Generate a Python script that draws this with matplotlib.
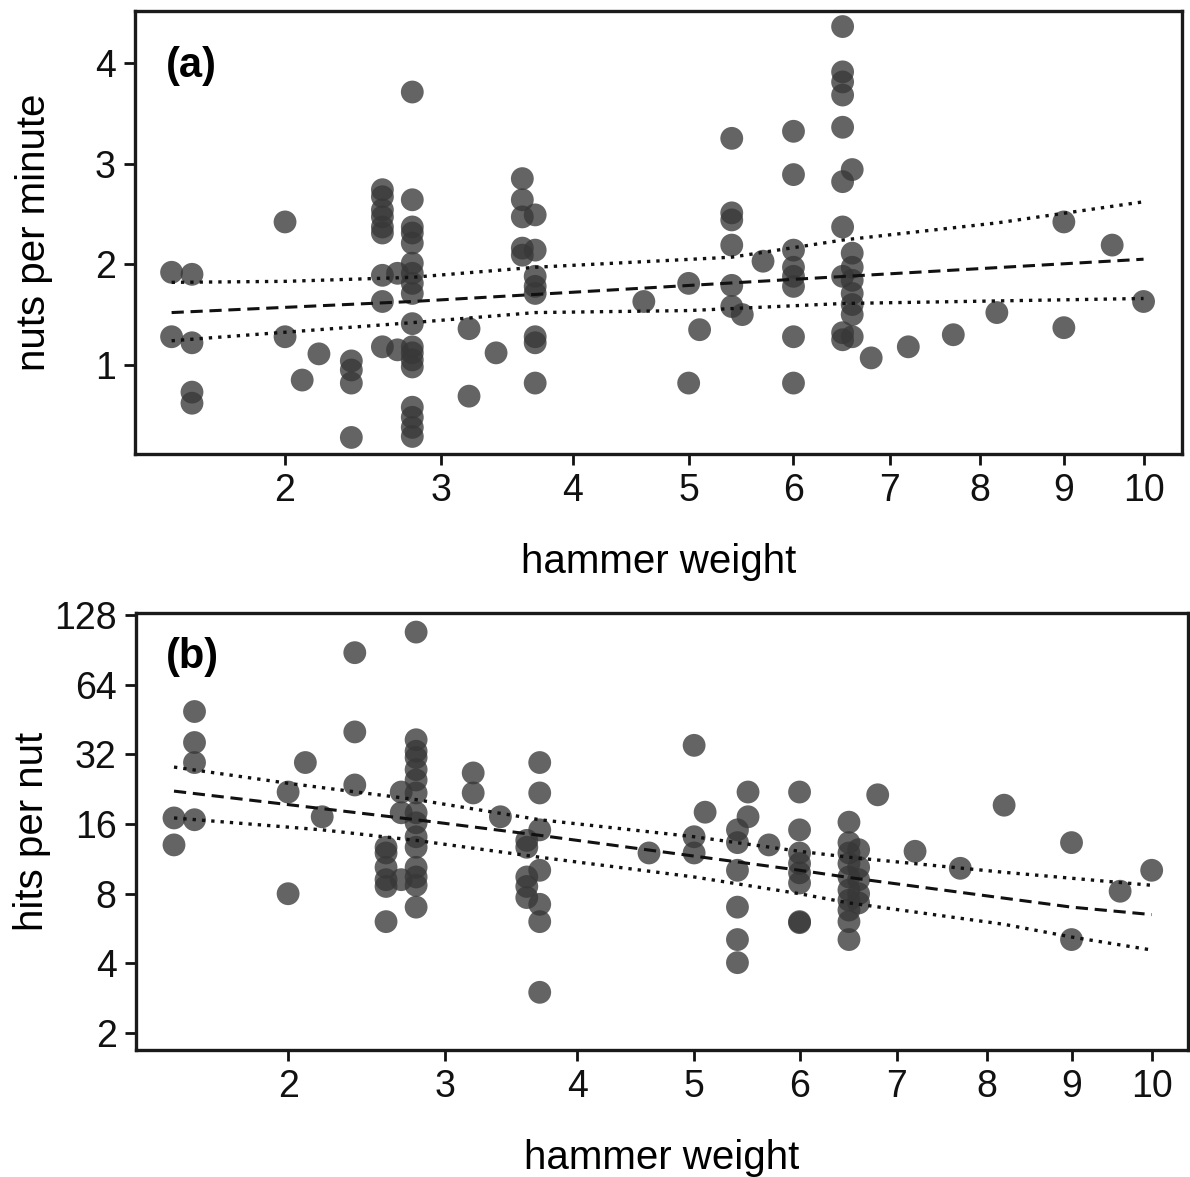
import numpy as np
import matplotlib
matplotlib.use("Agg")
import matplotlib.pyplot as plt
from matplotlib import font_manager as fm

# ---------------- data ----------------
# panel (a): nuts per minute
a_x = [1.4, 1.4,
       1.5, 1.5, 1.5, 1.5,
       2.0, 2.0, 2.1, 2.2,
       2.4, 2.4, 2.4, 2.4,
       2.6, 2.6, 2.6, 2.6, 2.6, 2.6, 2.6, 2.6, 2.6,
       2.7, 2.7,
       2.8, 2.8, 2.8, 2.8, 2.8, 2.8, 2.8, 2.8, 2.8, 2.8, 2.8, 2.8, 2.8, 2.8, 2.8, 2.8, 2.8, 2.8,
       3.2, 3.2, 3.4,
       3.6, 3.6, 3.6, 3.6, 3.6,
       3.7, 3.7, 3.7, 3.7, 3.7, 3.7, 3.7, 3.7,
       4.6, 5.0, 5.0, 5.1,
       5.4, 5.4, 5.4, 5.4, 5.4, 5.4,
       5.5, 5.7,
       6.0, 6.0, 6.0, 6.0, 6.0, 6.0, 6.0, 6.0,
       6.5, 6.5, 6.5, 6.5, 6.5, 6.5, 6.5, 6.5, 6.5, 6.5,
       6.6, 6.6, 6.6, 6.6, 6.6, 6.6, 6.6, 6.6,
       6.8, 7.2, 7.7, 8.2, 9.0, 9.0, 9.6, 10.0]
a_y = [1.92, 1.28,
       1.90, 1.22, 0.73, 0.62,
       2.42, 1.28, 0.85, 1.11,
       1.04, 0.95, 0.82, 0.28,
       2.74, 2.67, 2.54, 2.47, 2.37, 2.31, 1.89, 1.63, 1.18,
       1.91, 1.15,
       3.71, 2.64, 2.37, 2.31, 2.21, 2.01, 1.91, 1.81, 1.71, 1.41, 1.18, 1.12, 1.05, 0.98, 0.58, 0.48, 0.38, 0.29,
       1.36, 0.69, 1.12,
       2.85, 2.64, 2.47, 2.16, 2.09,
       2.49, 2.14, 1.88, 1.78, 1.71, 1.28, 1.22, 0.82,
       1.63, 1.81, 0.82, 1.35,
       3.25, 2.51, 2.44, 2.19, 1.79, 1.58,
       1.50, 2.03,
       3.32, 2.89, 2.14, 1.97, 1.88, 1.78, 1.28, 0.82,
       4.36, 3.91, 3.81, 3.68, 3.36, 2.82, 2.37, 1.88, 1.32, 1.25,
       2.94, 2.11, 1.97, 1.84, 1.71, 1.60, 1.50, 1.28,
       1.07, 1.18, 1.30, 1.52, 2.42, 1.37, 2.19, 1.63]

a_line_x = [1.4, 2.8, 3.7, 6.0, 10.0]
a_fit = [1.52, 1.63, 1.70, 1.85, 2.05]
a_up_x = [1.4, 2.0, 2.8, 3.7, 5.4, 6.5, 8.2, 10.0]
a_up = [1.82, 1.83, 1.87, 1.97, 2.07, 2.24, 2.41, 2.62]
a_lo_x = [1.4, 2.8, 3.7, 5.0, 6.5, 10.0]
a_lo = [1.24, 1.42, 1.52, 1.54, 1.61, 1.66]

# panel (b): hits per nut
b_x = [1.4, 1.4,
       1.5, 1.5, 1.5, 1.5,
       2.0, 2.0, 2.1, 2.2,
       2.4, 2.4, 2.4,
       2.6, 2.6, 2.6, 2.6, 2.6, 2.6,
       2.7, 2.7, 2.7,
       2.8, 2.8, 2.8, 2.8, 2.8, 2.8, 2.8, 2.8, 2.8, 2.8, 2.8, 2.8, 2.8, 2.8, 2.8,
       3.2, 3.2, 3.4,
       3.6, 3.6, 3.6, 3.6, 3.6,
       3.7, 3.7, 3.7, 3.7, 3.7, 3.7, 3.7,
       4.6, 5.0, 5.0, 5.0, 5.1,
       5.4, 5.4, 5.4, 5.4, 5.4, 5.4,
       5.5, 5.5, 5.7,
       6.0, 6.0, 6.0, 6.0, 6.0, 6.0, 6.0, 6.0,
       6.5, 6.5, 6.5, 6.5, 6.5, 6.5, 6.5, 6.5, 6.5, 6.5,
       6.6, 6.6, 6.6, 6.6, 6.6,
       6.8, 7.2, 7.7, 8.2, 9.0, 9.0, 9.6, 10.0]
b_y = [17.0, 13.0,
       49, 36, 29.5, 16.7,
       22, 8.0, 29.5, 17.2,
       88, 40, 23.6,
       12.7, 12.0, 10.4, 9.2, 8.6, 6.06,
       22, 17.9, 9.2,
       108, 37, 33, 31, 27.5, 24.8, 21.8, 17.9, 16.2, 14.1, 12.7, 10.4, 9.45, 8.7, 7.0,
       26.6, 21.8, 17.2,
       13.6, 12.7, 9.45, 8.6, 7.7,
       29.5, 21.8, 15.1, 10.1, 7.2, 6.06, 3.0,
       12.0, 35, 14.1, 12.0, 18.0,
       15.1, 13.3, 10.1, 7.0, 5.07, 4.03,
       22, 17.2, 13.0,
       22, 15.1, 12.0, 10.8, 9.85, 8.9, 6.06, 6.0,
       16.3, 13.3, 12.0, 10.8, 9.45, 8.3, 7.5, 6.8, 6.06, 5.07,
       12.4, 10.4, 9.2, 8.0, 7.3,
       21.4, 12.2, 10.3, 19.3, 13.3, 5.07, 8.2, 10.1]

b_line_x = [1.4, 2.8, 3.7, 6.0, 6.5, 9.0, 10.0]
b_fit = [22.2, 16.7, 14.3, 10.1, 9.4, 7.0, 6.5]
b_up_x = [1.4, 2.0, 2.8, 3.7, 5.0, 6.0, 6.5, 8.2, 10.0]
b_up = [28.2, 24.0, 20.4, 16.7, 14.1, 12.2, 11.5, 9.9, 8.7]
b_lo_x = [1.4, 2.2, 2.8, 3.7, 5.0, 6.0, 6.5, 8.2, 9.0, 10.0]
b_lo = [17.0, 15.1, 13.6, 11.5, 9.45, 8.0, 7.3, 5.9, 5.2, 4.57]

x_ticks = [2, 3, 4, 5, 6, 7, 8, 9, 10]
a_yticks = [1, 2, 3, 4]
b_yticks = [2, 4, 8, 16, 32, 64, 128]

# ---------------- style ----------------
avail = {f.name for f in fm.fontManager.ttflist}
fam = 'Liberation Sans Narrow' if 'Liberation Sans Narrow' in avail else 'Liberation Sans'
plt.rcParams['font.family'] = [fam, 'DejaVu Sans']

fig = plt.figure(figsize=(11.9, 11.77), dpi=100)
ax1 = fig.add_axes([0.1134, 0.6143, 0.8798, 0.3764])
ax2 = fig.add_axes([0.1143, 0.1079, 0.8840, 0.3713])

def fwd(x):
    return np.sqrt(np.clip(x, 0, None))

def inv(x):
    return np.square(x)

mcol = '#383838'
msize = 270
for ax in (ax1, ax2):
    ax.set_xscale('function', functions=(fwd, inv))
    for s in ax.spines.values():
        s.set_linewidth(2.4)
        s.set_color('#1a1a1a')
    ax.tick_params(direction='out', length=8, width=2, labelsize=27, colors='#111111', pad=6)
    ax.set_xticks(x_ticks)
    ax.set_xticklabels([str(t) for t in x_ticks])
    ax.minorticks_off()

dot = (0, (1, 1.8))
dash = (0, (4, 2.2))

# panel a
ax1.scatter(a_x, a_y, s=msize, c=mcol, alpha=0.78, edgecolors='none', zorder=2)
ax1.plot(a_line_x, a_fit, ls=dash, color='#111111', lw=2.2, zorder=3)
ax1.plot(a_up_x, a_up, ls=dot, color='#111111', lw=2.4, zorder=3)
ax1.plot(a_lo_x, a_lo, ls=dot, color='#111111', lw=2.4, zorder=3)
ax1.set_xlim(1.229, 10.50)
ax1.set_ylim(0.116, 4.515)
ax1.set_yticks(a_yticks)
ax1.set_yticklabels([str(t) for t in a_yticks])
ax1.set_ylabel('nuts per minute', fontsize=29, labelpad=30)
ax1.set_xlabel('hammer weight', fontsize=29, labelpad=24)
ax1.text(0.030, 0.92, '(a)', transform=ax1.transAxes, fontsize=30, fontweight='bold',
         ha='left', va='top')

# panel b
ax2.set_yscale('log', base=2)
ax2.scatter(b_x, b_y, s=msize, c=mcol, alpha=0.78, edgecolors='none', zorder=2)
ax2.plot(b_line_x, b_fit, ls=dash, color='#111111', lw=2.2, zorder=3)
ax2.plot(b_up_x, b_up, ls=dot, color='#111111', lw=2.4, zorder=3)
ax2.plot(b_lo_x, b_lo, ls=dot, color='#111111', lw=2.4, zorder=3)
ax2.set_xlim(1.224, 10.47)
ax2.set_ylim(1.69, 130.6)
ax2.set_yticks(b_yticks)
ax2.set_yticklabels([str(t) for t in b_yticks])
ax2.minorticks_off()
ax2.set_ylabel('hits per nut', fontsize=29, labelpad=2)
ax2.set_xlabel('hammer weight', fontsize=29, labelpad=24)
ax2.text(0.028, 0.945, '(b)', transform=ax2.transAxes, fontsize=30, fontweight='bold',
         ha='left', va='top')

fig.savefig('out.png', dpi=100)
